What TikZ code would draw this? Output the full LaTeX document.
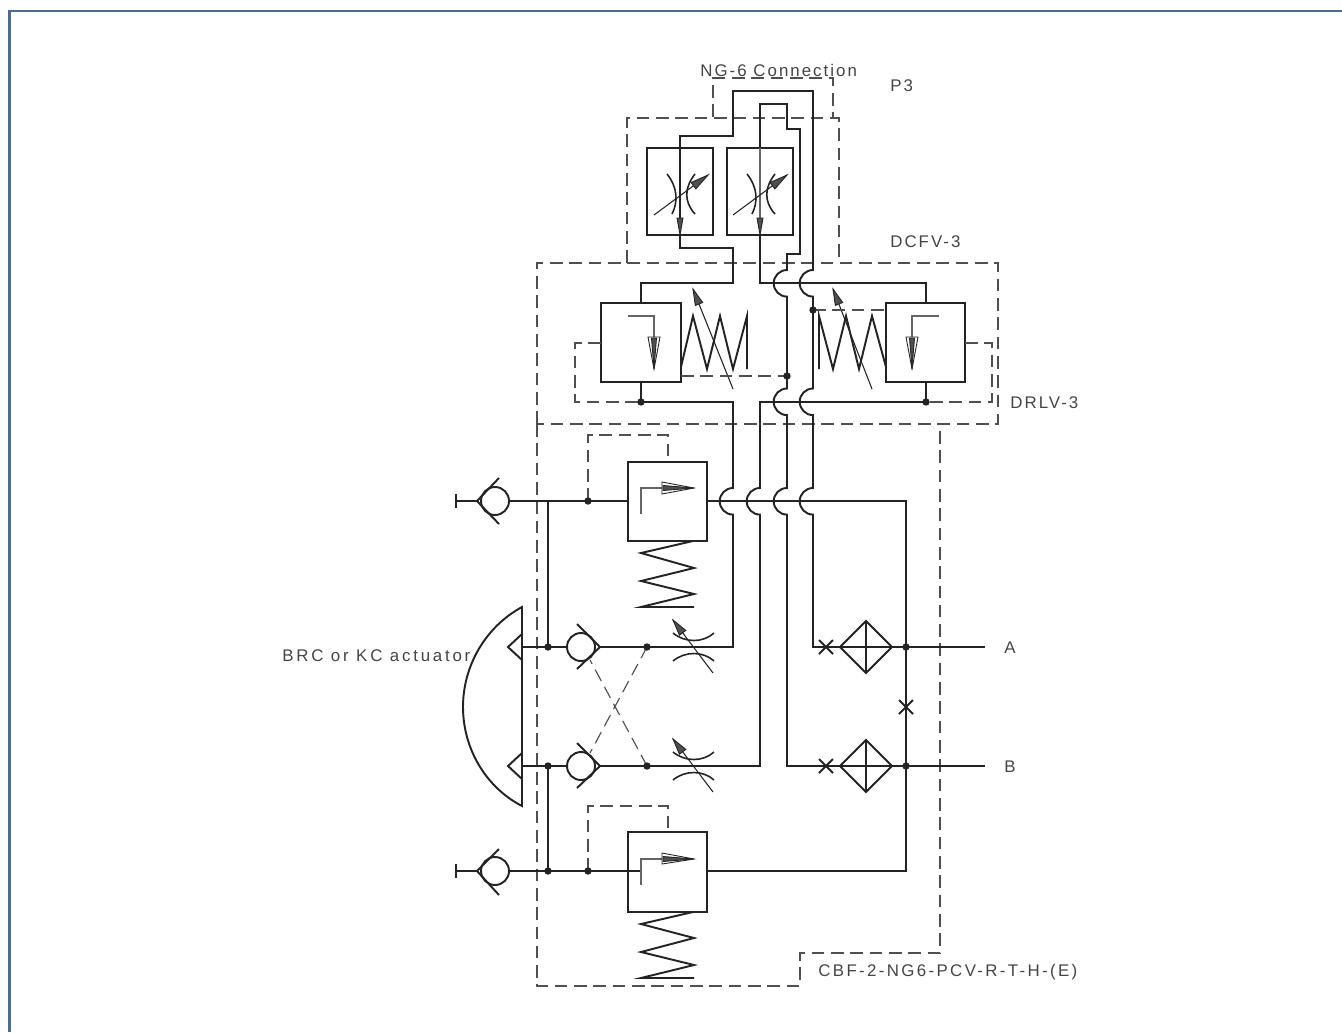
\documentclass[tikz,border=0pt]{standalone}
\usepackage{fontspec}
\newfontfamily\cadfont[LetterSpace=12]{Liberation Sans}
\definecolor{framecolor}{RGB}{72,108,148}
\definecolor{inkcolor}{RGB}{35,35,35}
\newcommand{\hop}{arc[start angle=270,end angle=90,radius=13.3]}

\begin{document}
\begin{tikzpicture}[
x=0.02cm,y=-0.02cm,
pipe/.style={line width=1.1pt,inkcolor,line join=miter},
bow/.style={line width=0.9pt,inkcolor},
fine/.style={line width=0.6pt,inkcolor},
pilot/.style={line width=0.65pt,inkcolor!80,dash pattern=on 7.2pt off 3.8pt},
inner/.style={line width=0.7pt,inkcolor!70},
tiphead/.style={line width=0.5pt,draw=inkcolor,fill=inkcolor!80},
label/.style={anchor=west,inner sep=0pt,inkcolor!85,font=\cadfont\fontsize{9.6}{11}\selectfont}]

\useasboundingbox (0,0) rectangle (1342,1032);

% Frame
\draw[framecolor,line width=1.7pt] (9.5,1032) -- (9.5,11) -- (1342,11);

% Housings
\draw[pilot] (713,117) -- (713,78) -- (833,78) -- (833,117);
\draw[pilot] (627,263) -- (627,118) -- (839,118) -- (839,263);
\draw[pilot] (537,424) -- (537,263) -- (998,263) -- (998,424) -- cycle;
\draw[pilot] (537,424) -- (537,986) -- (800,986) -- (800,953) -- (940,953) -- (940,424);

% Pressure lines
\draw[pipe] (680,148) -- (680,136) -- (733,136) -- (733,91) -- (813,91) -- (813,270) \hop -- (813,388.5) \hop -- (813,488) \hop -- (813,647) -- (840,647);
\draw[pipe] (760,148) -- (760,104) -- (787,104) -- (787,129) -- (800,129) -- (800,254) -- (787,254) -- (787,270) \hop -- (787,388.5) \hop -- (787,488) \hop -- (787,766) -- (840,766);
\draw[pipe] (760,235) -- (760,283) -- (926,283) -- (926,303);
\draw[pipe] (680,235) -- (680,248) -- (733,248) -- (733,283) -- (641,283) -- (641,303);
\draw[pipe] (641,382) -- (641,402) -- (733,402) -- (733,488) \hop -- (733,647) -- (600,647);
\draw[pipe] (926,382) -- (926,402) -- (760,402) -- (760,488) \hop -- (760,766) -- (600,766);
\draw[pipe] (707,501) -- (906,501) -- (906,871) -- (707,871);
\draw[pipe] (892,647) -- (985,647);
\draw[pipe] (892,766) -- (985,766);
\draw[pipe] (509,501) -- (628,501);
\draw[pipe] (509,871) -- (641,871);
\draw[pipe] (548,501) -- (548,647);
\draw[pipe] (548,766) -- (548,871);
\draw[pipe] (522,647) -- (568,647);
\draw[pipe] (522,766) -- (568,766);
\draw[pipe] (456,501) -- (477,501);
\draw[pipe] (456,871) -- (477,871);

% Flow controls
\draw[pipe] (647,148) rectangle (713,235);
    \draw[fine] (680,148) -- (680,220);
    \draw[bow] (667,174) .. controls (678,188) and (678,202) .. (672,214);
    \draw[bow] (695,174) .. controls (684,188) and (684,202) .. (695,214);
    \draw[fine] (654,215) -- (708,175);
    \filldraw[tiphead] (708,175) -- (695.9,188.9) -- (691.1,182.5) -- cycle;
    \filldraw[tiphead] (680,235) -- (677,218) -- (683,218) -- cycle;
\draw[pipe] (727,148) rectangle (793,235);
    \draw[inner] (760,148) -- (760,220);
    \draw[bow] (747,174) .. controls (758,188) and (758,202) .. (752,214);
    \draw[bow] (775,174) .. controls (764,188) and (764,202) .. (775,214);
    \draw[fine] (733,215) -- (787,175);
    \filldraw[tiphead] (787,175) -- (774.9,188.9) -- (770.1,182.5) -- cycle;
    \filldraw[tiphead] (760,235) -- (757,218) -- (763,218) -- cycle;

% Left reducing valve
\draw[pipe] (601,303) rectangle (681,382);
\draw[inner] (628,316) -- (654,316) -- (654,337);
    \draw[tiphead,fill=white] (648,337) -- (660,337) -- (654,369) -- cycle;
    \filldraw[tiphead] (651.5,338) -- (656.5,338) -- (654,369) -- cycle;
\draw[pipe] (681,367) -- (693,316) -- (707,369) -- (720,316) -- (733,369) -- (747,316) -- (747,369);
\draw[fine] (733,389) -- (693,289);
    \filldraw[tiphead] (693,289) -- (702.7,302.5) -- (695.3,305.5) -- cycle;
\draw[pilot] (601,343) -- (575,343) -- (575,402) -- (641,402);
\draw[pilot] (681,376) -- (787,376);

% Right reducing valve
\draw[pipe] (886,303) rectangle (965,382);
\draw[inner] (939,316) -- (912,316) -- (912,337);
    \draw[tiphead,fill=white] (906,337) -- (918,337) -- (912,369) -- cycle;
    \filldraw[tiphead] (909.5,338) -- (914.5,338) -- (912,369) -- cycle;
\draw[pipe] (886,367) -- (872,316) -- (859,369) -- (846,316) -- (833,369) -- (819,316) -- (819,369);
\draw[fine] (872,389) -- (833,289);
    \filldraw[tiphead] (833,289) -- (842.7,302.5) -- (835.3,305.4) -- cycle;
\draw[pilot] (813,310) -- (886,310);
\draw[pilot] (965,343) -- (992,343) -- (992,402) -- (926,402);

% Upper relief valve
\draw[pipe] (628,462) rectangle (707,541);
\draw[inner] (641,514) -- (641,488) -- (662,488);
    \draw[tiphead,fill=white] (662,482) -- (662,494) -- (694,488) -- cycle;
    \filldraw[tiphead] (663,485.5) -- (663,490.5) -- (694,488) -- cycle;
\draw[pipe] (693,541) -- (641,553) -- (694,568) -- (641,581) -- (694,594) -- (641,607) -- (694,607);
\draw[pilot] (588,501) -- (588,435) -- (668,435) -- (668,462);

% Lower relief valve
\draw[pipe] (628,832) rectangle (707,912);
\draw[inner] (641,885) -- (641,859) -- (662,859);
    \draw[tiphead,fill=white] (662,853) -- (662,864) -- (694,859) -- cycle;
    \filldraw[tiphead] (663,856.5) -- (663,861.5) -- (694,859) -- cycle;
\draw[pipe] (693,912) -- (641,924) -- (694,938) -- (641,952) -- (694,965) -- (641,978) -- (694,978);
\draw[pilot] (588,871) -- (588,806) -- (668,806) -- (668,832);

% Check valves
\draw[pipe] (495,501) circle (14);
    \draw[pipe] (499,478) -- (477,501) -- (499,524);
    \draw[pipe] (456,494) -- (456,508);
\draw[pipe] (495,871) circle (14);
    \draw[pipe] (499,849) -- (477,871) -- (499,895);
    \draw[pipe] (456,864) -- (456,878);
\draw[pipe] (581,647) circle (14);
    \draw[pipe] (577,624) -- (600,647) -- (577,669);
\draw[pipe] (581,766) circle (14);
    \draw[pipe] (577,743) -- (600,766) -- (577,788);
\draw[pilot] (647,647) -- (590,753);
\draw[pilot] (647,766) -- (590,660);

% Restrictors
\draw[bow] (673,633) .. controls (685,643) and (703,643) .. (714,633);
\draw[bow] (673,661) .. controls (685,651) and (703,651) .. (714,661);
\draw[fine] (713,673) -- (673,620);
    \filldraw[tiphead] (673,620) -- (685.8,630.4) -- (679.4,635.2) -- cycle;
\draw[bow] (673,752) .. controls (685,762) and (703,762) .. (714,752);
\draw[bow] (673,780) .. controls (685,770) and (703,770) .. (714,780);
\draw[fine] (713,792) -- (673,739);
    \filldraw[tiphead] (673,739) -- (685.8,749.4) -- (679.4,754.2) -- cycle;

% Actuator
\draw[pipe] (522,607) .. controls (485.6,626.8) and (463,665.6) .. (463,707) .. controls (463,748.4) and (485.6,787.2) .. (522,806) -- cycle;
\draw[pipe] (522,634) -- (508,647) -- (522,660);
\draw[pipe] (522,753) -- (508,766) -- (522,779);

% Filters
\draw[pipe] (840,647) -- (866,621) -- (892,647) -- (866,673) -- cycle;
    \draw[pipe] (866,621) -- (866,673);
    \draw[pipe] (840,647) -- (892,647);
\draw[pipe] (840,766) -- (866,740) -- (892,766) -- (866,792) -- cycle;
    \draw[pipe] (866,740) -- (866,792);
    \draw[pipe] (840,766) -- (892,766);

% Crosses
\draw[pipe] (819,640) -- (833,654) (819,654) -- (833,640);
\draw[pipe] (819,759) -- (833,773) (819,773) -- (833,759);
\draw[pipe] (899,700) -- (913,714) (899,714) -- (913,700);

% Junctions
\foreach \dotx/\doty in {787/376,813/310,641/402,926/402,588/501,548/647,548/766,647/647,647/766,906/647,906/766,548/871,588/871}
    \fill[inkcolor] (\dotx,\doty) circle (3.7);

% Labels
\node[label] (ngsix) at (700,70) {NG-6 Connection};
\node[label] (pthree) at (890,86) {P3};
\node[label] (dcfv) at (890,242) {DCFV-3};
\node[label] (drlv) at (1010,403) {DRLV-3};
\node[label] (brc) at (282,655.5) {\addfontfeature{LetterSpace=16.5}BRC or KC actuator};
\node[label] (porta) at (1004,647.5) {A};
\node[label] (portb) at (1004,766.5) {B};
\node[label] (cbf) at (818,972) {\addfontfeature{LetterSpace=14}CBF-2-NG6-PCV-R-T-H-(E)};

\end{tikzpicture}
\end{document}
